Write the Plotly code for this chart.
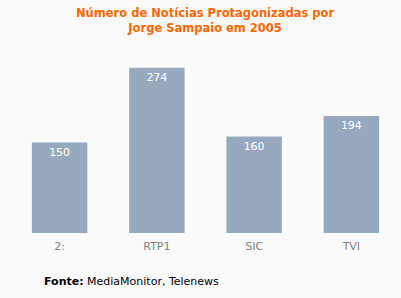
import plotly.graph_objects as go

categories = ["2:", "RTP1", "SIC", "TVI"]
values = [150, 274, 160, 194]
title_text = "Número de Notícias Protagonizadas por<br>Jorge Sampaio em 2005"
source_bold = "Fonte:"
source_text = "MediaMonitor, Telenews"

bg = "#FBFBFB"
fig = go.Figure(go.Bar(
    x=categories, y=values, text=[str(v) for v in values],
    textposition="inside", insidetextanchor="end",
    textfont=dict(color="white", size=11, family="DejaVu Sans"),
    marker=dict(color="#97A9BF", line=dict(width=0)),
    width=0.57, textangle=0,
))
fig.update_layout(
    width=401, height=298, margin=dict(l=11, r=1, t=40, b=65),
    paper_bgcolor=bg, plot_bgcolor=bg,
    showlegend=False,
    xaxis=dict(range=[-0.5, 3.5], showgrid=False, zeroline=False, showline=False,
               ticks="", ticklabelstandoff=5,
               tickfont=dict(family="DejaVu Sans", size=11, color="#808080")),
    yaxis=dict(range=[0, 320], visible=False),
    uniformtext=dict(minsize=8, mode="show"),
    annotations=[
        dict(text=f"<b>{title_text}</b>", xref="paper", yref="paper",
             x=0.499, xanchor="center", y=1.102, yanchor="middle", showarrow=False,
             font=dict(family="DejaVu Sans", size=11.5, color="#FF6600")),
        dict(text=f"<b>{source_bold}</b> {source_text}", xref="paper", yref="paper",
             x=0.08, xanchor="left", y=-0.25, yanchor="middle", showarrow=False,
             font=dict(family="DejaVu Sans", size=11, color="#000000")),
    ],
)
fig.write_html("out.html")
